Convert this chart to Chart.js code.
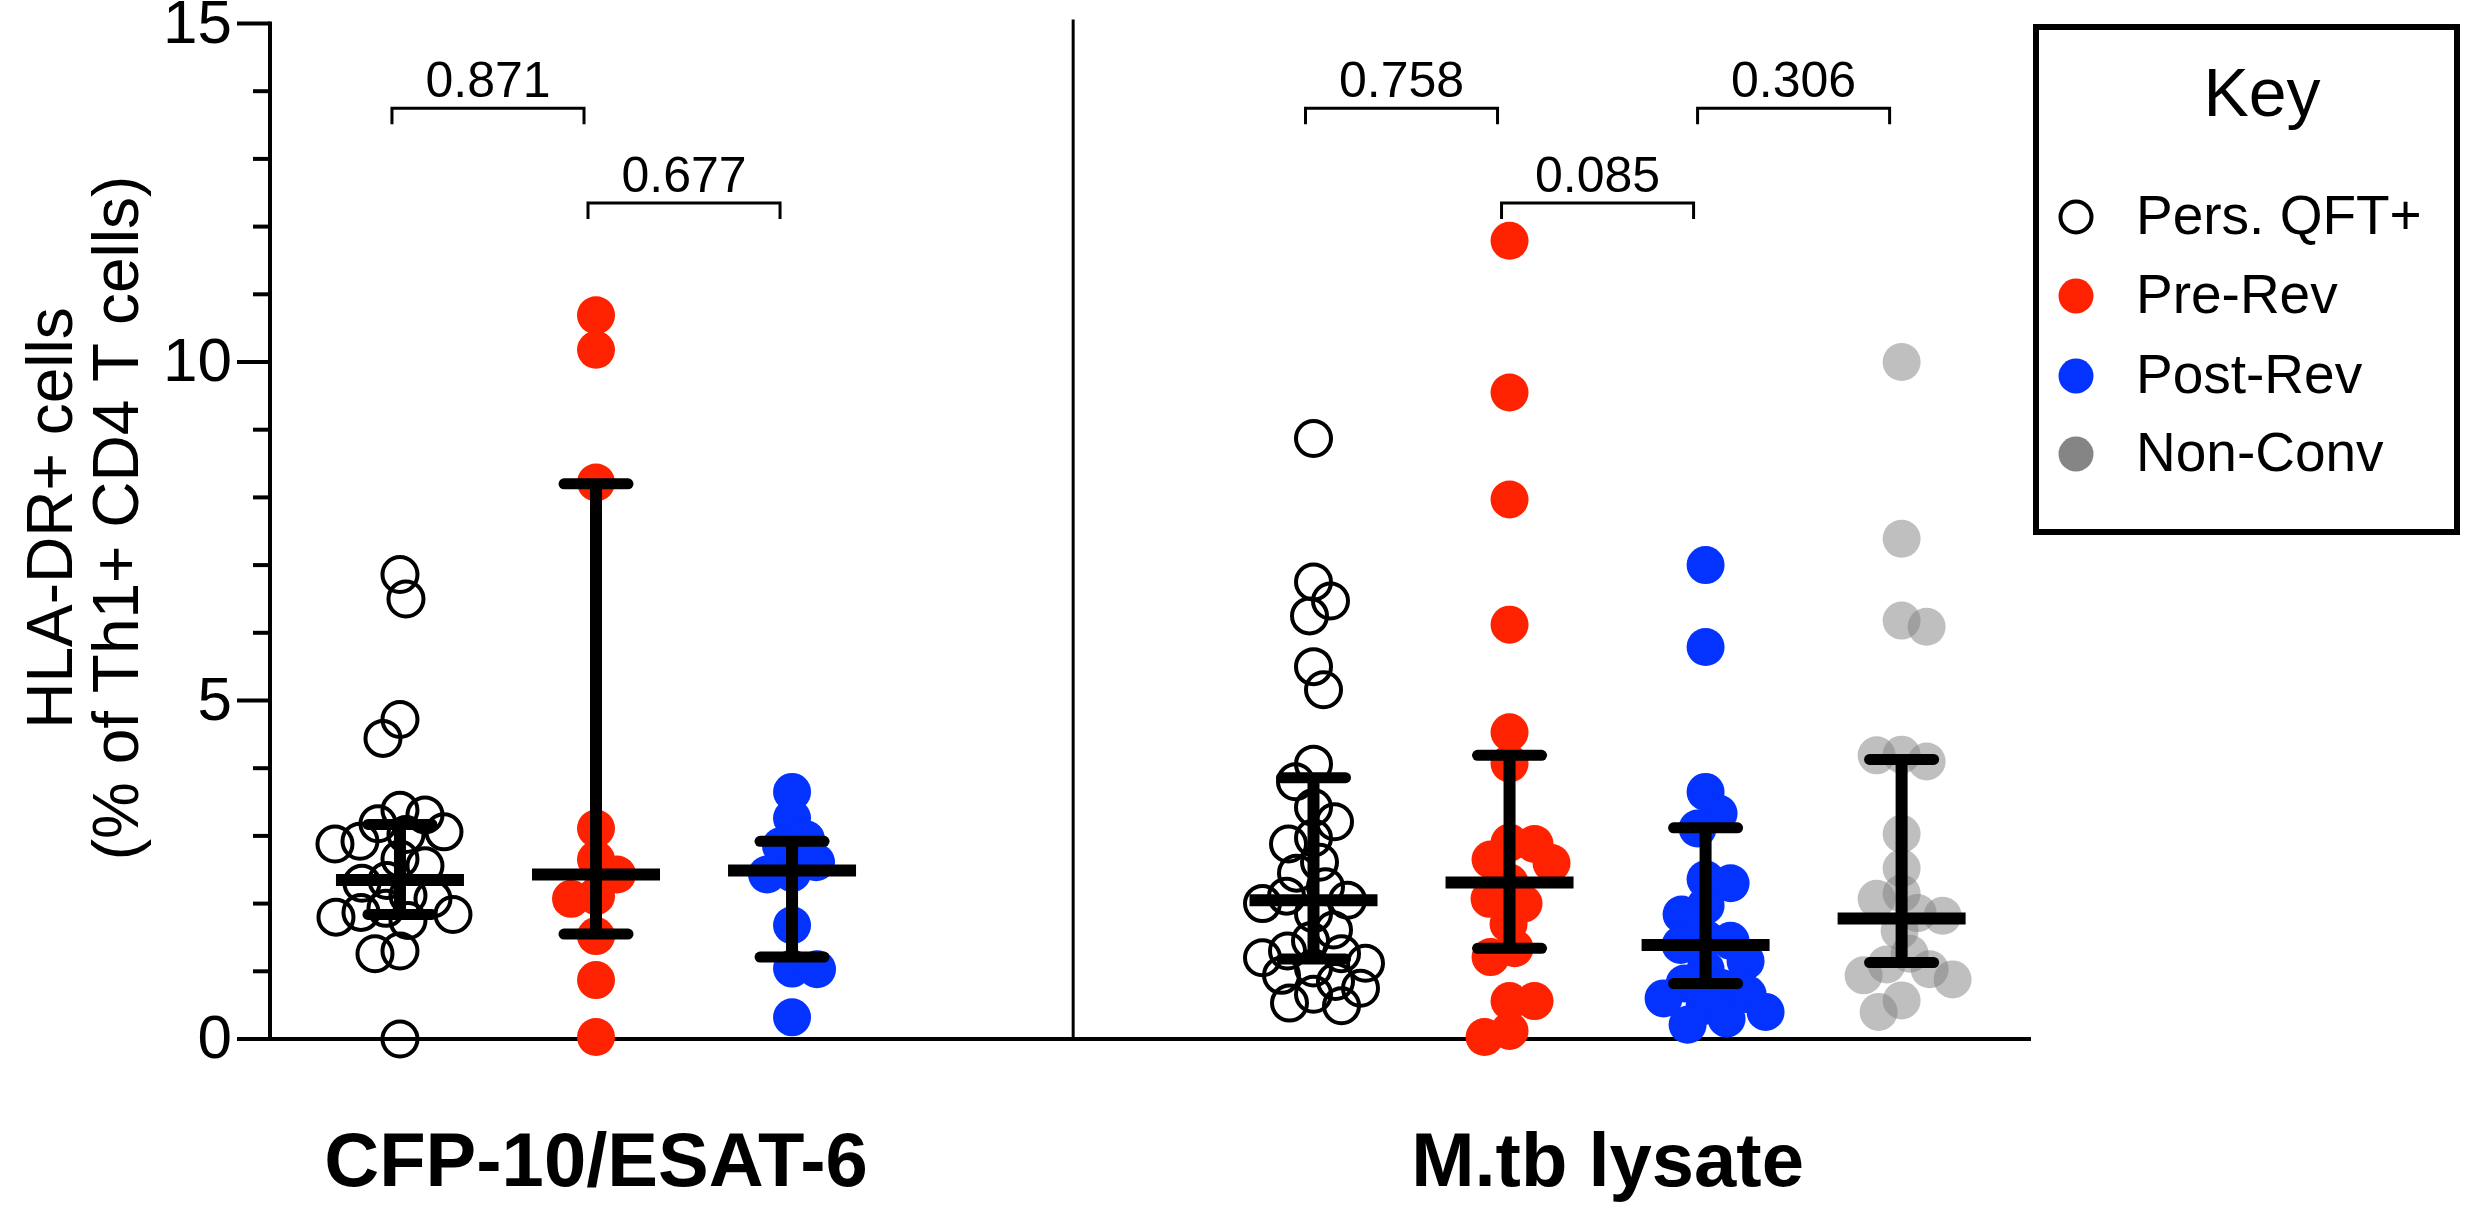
<!DOCTYPE html>
<html>
<head>
<meta charset="utf-8">
<script src="https://cdn.jsdelivr.net/npm/chart.js@4/dist/chart.umd.min.js"></script>
<style>
  html, body { margin: 0; padding: 0; background: #ffffff; }
  #wrap { width: 2480px; height: 1207px; }
  canvas { display: block; }
</style>
</head>
<body>
<div id="wrap"><canvas id="c" width="2480" height="1207"></canvas></div>
<script>
// ---------------- DATA ----------------
const groupLabels = ['CFP-10/ESAT-6', 'M.tb lysate'];
const seriesNames = ['Pers. QFT+', 'Pre-Rev', 'Post-Rev', 'Non-Conv'];

// CFP-10/ESAT-6
const cfpPersQFT = [6.86, 6.50, 4.72, 4.44, 3.38, 3.31, 3.18, 3.06, 3.02, 2.92, 2.88, 2.66, 2.56, 2.34, 2.30, 2.12, 2.07, 1.93, 1.87, 1.84, 1.80, 1.75, 1.30, 1.26, 0.00];
const cfpPreRev  = [10.69, 10.18, 8.22, 3.11, 2.65, 2.43, 2.11, 2.07, 1.52, 0.87, 0.03];
const cfpPostRev = [3.65, 3.26, 2.95, 2.85, 2.61, 2.45, 2.43, 1.68, 1.04, 1.03, 0.32];

// M.tb lysate
const lysPersQFT = [8.87, 6.75, 6.47, 6.25, 5.50, 5.16, 4.06, 3.80, 3.42, 3.21, 2.97, 2.88, 2.61, 2.45, 2.25, 2.11, 2.05, 2.00, 1.85, 1.61, 1.45, 1.30, 1.26, 1.20, 1.12, 1.05, 0.94, 0.85, 0.75, 0.66, 0.53, 0.49];
const lysPreRev  = [11.79, 9.55, 7.97, 6.12, 4.53, 4.07, 2.90, 2.88, 2.65, 2.60, 2.31, 2.07, 2.00, 1.70, 1.34, 1.21, 0.56, 0.56, 0.12, 0.03];
const lysPostRev = [7.00, 5.79, 3.65, 3.33, 3.11, 2.36, 2.30, 1.97, 1.84, 1.48, 1.45, 1.39, 1.15, 1.03, 0.82, 0.75, 0.66, 0.60, 0.49, 0.40, 0.30, 0.21];
const lysNonConv = [10.00, 7.39, 6.18, 6.09, 4.20, 4.19, 4.10, 3.03, 2.52, 2.15, 2.07, 1.86, 1.82, 1.60, 1.26, 1.10, 1.03, 0.94, 0.88, 0.57, 0.40];

// median and interquartile range per column
const medians = [2.35, 2.43, 2.49, 2.05, 2.31, 1.39, 1.78];
const q1      = [1.84, 1.55, 1.21, 1.18, 1.34, 0.82, 1.13];
const q3      = [3.17, 8.20, 2.92, 3.86, 4.19, 3.12, 4.13];

// comparisons: [fromColumn, toColumn, p-value label, level]
const pLabels = ['0.871', '0.677', '0.758', '0.085', '0.306'];
const pFrom   = [0, 1, 3, 4, 5];
const pTo     = [1, 2, 4, 5, 6];
const pLevel  = [13.75, 12.35, 13.75, 12.35, 13.75];

const yTicksMajor = [0, 5, 10, 15];

// ---------------- LAYOUT / STYLE ----------------
const W = 2480, H = 1207;
const AREA = { left: 270, right: 2031, top: 23.5, bottom: 1039 };
const X_MIN = 0.337, X_MAX = 9.32, Y_MIN = 0, Y_MAX = 15;
const colPos = [1, 2, 3, 5.66, 6.66, 7.66, 8.66];
const dividerX = 4.434;
const pxPerY = (AREA.bottom - AREA.top) / (Y_MAX - Y_MIN);
const RED = '#ff2200', BLUE = '#0433ff', GRAY = 'rgba(128,128,128,0.5)';
const FONT = "'Liberation Sans', Arial, Helvetica, sans-serif";

const columns = [
  { vals: cfpPersQFT, s: 0 }, { vals: cfpPreRev, s: 1 }, { vals: cfpPostRev, s: 2 },
  { vals: lysPersQFT, s: 0 }, { vals: lysPreRev, s: 1 }, { vals: lysPostRev, s: 2 }, { vals: lysNonConv, s: 3 }
];
const pxPerX = (AREA.right - AREA.left) / (X_MAX - X_MIN);

// beeswarm spread computed from the values (collision avoidance)
function swarm(values, minDist) {
  const order = values.map((v, i) => i).sort((a, b) => values[b] - values[a]);
  const placed = [], offs = new Array(values.length);
  let flip = 1;
  for (const i of order) {
    const y = values[i] * pxPerY;
    let best = 0;
    outer: for (let k = 0; k < 400; k++) {
      const cands = k === 0 ? [0] : [flip * k, -flip * k];
      for (const c of cands) {
        if (placed.every(p => Math.hypot(p.x - c, p.y - y) >= minDist)) { best = c; break outer; }
      }
    }
    if (best !== 0) flip = -Math.sign(best);
    placed.push({ x: best, y }); offs[i] = best;
  }
  return offs;
}

function styleFor(s) {
  if (s === 0) return { pointRadius: 17.5, pointBorderWidth: 4, pointBorderColor: '#000', pointBackgroundColor: 'rgba(0,0,0,0)' };
  if (s === 1) return { pointRadius: 19, pointBorderWidth: 0, pointBorderColor: RED, pointBackgroundColor: RED };
  if (s === 2) return { pointRadius: 19, pointBorderWidth: 0, pointBorderColor: BLUE, pointBackgroundColor: BLUE };
  return { pointRadius: 19, pointBorderWidth: 0, pointBorderColor: 'rgba(0,0,0,0)', pointBackgroundColor: GRAY };
}

const datasets = columns.map((col, ci) => {
  const offs = swarm(col.vals, 25);
  return Object.assign({
    label: seriesNames[col.s],
    data: col.vals.map((v, i) => ({ x: colPos[ci] + offs[i] / pxPerX, y: v })),
    clip: false,
    pointHoverRadius: 19
  }, styleFor(col.s));
});

// ---------------- PLUGIN: axes, error bars, labels, legend ----------------
const decor = {
  id: 'decor',
  beforeDatasetsDraw(chart) {
    const ctx = chart.ctx, xs = chart.scales.x, ys = chart.scales.y;
    ctx.save();
    ctx.strokeStyle = '#000';
    ctx.lineCap = 'butt';
    ctx.lineWidth = 4;
    ctx.beginPath();
    ctx.moveTo(AREA.left, ys.getPixelForValue(Y_MAX) - 2);
    ctx.lineTo(AREA.left, ys.getPixelForValue(0) + 2);
    ctx.stroke();
    ctx.beginPath();
    ctx.moveTo(AREA.left - 2, ys.getPixelForValue(0));
    ctx.lineTo(xs.getPixelForValue(X_MAX), ys.getPixelForValue(0));
    ctx.stroke();
    ctx.lineWidth = 4;
    for (let v = Y_MIN; v <= Y_MAX; v += 1) {
      const y = ys.getPixelForValue(v);
      const major = yTicksMajor.includes(v);
      ctx.beginPath();
      ctx.moveTo(AREA.left - (major ? 33 : 17), y);
      ctx.lineTo(AREA.left, y);
      ctx.stroke();
    }
    ctx.lineWidth = 3;
    const dx = xs.getPixelForValue(dividerX);
    ctx.beginPath();
    ctx.moveTo(dx, ys.getPixelForValue(Y_MAX) - 4);
    ctx.lineTo(dx, ys.getPixelForValue(0));
    ctx.stroke();
    ctx.fillStyle = '#000';
    ctx.font = `62px ${FONT}`;
    ctx.textAlign = 'right';
    ctx.textBaseline = 'middle';
    yTicksMajor.forEach(v => ctx.fillText(String(v), AREA.left - 38, ys.getPixelForValue(v) + 2));
    ctx.restore();
  },
  afterDatasetsDraw(chart) {
    const ctx = chart.ctx, xs = chart.scales.x, ys = chart.scales.y;
    ctx.save();
    ctx.strokeStyle = '#000';
    colPos.forEach((p, i) => {
      const x = xs.getPixelForValue(p);
      const ym = ys.getPixelForValue(medians[i]);
      const y1 = ys.getPixelForValue(q1[i]);
      const y3 = ys.getPixelForValue(q3[i]);
      ctx.lineWidth = 12;
      ctx.lineCap = 'butt';
      ctx.beginPath(); ctx.moveTo(x, y3); ctx.lineTo(x, y1); ctx.stroke();
      ctx.lineWidth = 11;
      ctx.lineCap = 'round';
      ctx.beginPath(); ctx.moveTo(x - 32, y3); ctx.lineTo(x + 32, y3); ctx.stroke();
      ctx.beginPath(); ctx.moveTo(x - 32, y1); ctx.lineTo(x + 32, y1); ctx.stroke();
      ctx.lineWidth = 12;
      ctx.lineCap = 'butt';
      ctx.beginPath(); ctx.moveTo(x - 64, ym); ctx.lineTo(x + 64, ym); ctx.stroke();
    });
    ctx.restore();
  },
  afterDraw(chart) {
    const ctx = chart.ctx, xs = chart.scales.x, ys = chart.scales.y;
    ctx.save();
    ctx.fillStyle = '#000';
    ctx.strokeStyle = '#000';
    ctx.lineWidth = 3;
    ctx.lineCap = 'butt';
    ctx.font = `50px ${FONT}`;
    ctx.textAlign = 'center';
    ctx.textBaseline = 'alphabetic';
    pLabels.forEach((lab, i) => {
      const xa = xs.getPixelForValue(colPos[pFrom[i]]) - 8;
      const xb = xs.getPixelForValue(colPos[pTo[i]]) - 12;
      const y = ys.getPixelForValue(pLevel[i]);
      ctx.beginPath();
      ctx.moveTo(xa, y + 16); ctx.lineTo(xa, y); ctx.lineTo(xb, y); ctx.lineTo(xb, y + 16);
      ctx.stroke();
      ctx.fillText(lab, (xa + xb) / 2, y - 11);
    });
    ctx.font = `bold 76px ${FONT}`;
    ctx.textBaseline = 'middle';
    ctx.fillText(groupLabels[0], xs.getPixelForValue(colPos[1]), 1165);
    ctx.fillText(groupLabels[1], (xs.getPixelForValue(colPos[4]) + xs.getPixelForValue(colPos[5])) / 2, 1165);
    ctx.save();
    ctx.translate(0, 518);
    ctx.rotate(-Math.PI / 2);
    ctx.font = `64px ${FONT}`;
    ctx.textAlign = 'center';
    ctx.textBaseline = 'middle';
    ctx.fillText('HLA-DR+ cells', 0, 54);
    ctx.fillText('(% of Th1+ CD4 T cells)', 0, 120);
    ctx.restore();
    ctx.lineWidth = 6;
    ctx.strokeRect(2036, 27, 421, 505);
    ctx.font = `68px ${FONT}`;
    ctx.textAlign = 'center';
    ctx.textBaseline = 'middle';
    ctx.fillText('Key', 2262, 97);
    const legY = [217, 296, 376, 454];
    const legFill = ['rgba(0,0,0,0)', RED, BLUE, '#858585'];
    ctx.font = `55px ${FONT}`;
    ctx.textAlign = 'left';
    seriesNames.forEach((name, i) => {
      ctx.beginPath();
      if (i === 0) {
        ctx.lineWidth = 4;
        ctx.arc(2076, legY[i], 15.5, 0, Math.PI * 2);
        ctx.stroke();
      } else {
        ctx.fillStyle = legFill[i];
        ctx.arc(2076, legY[i], 17.5, 0, Math.PI * 2);
        ctx.fill();
      }
      ctx.fillStyle = '#000';
      ctx.fillText(name, 2136, legY[i] + 2);
    });
    ctx.restore();
  }
};

new Chart(document.getElementById('c'), {
  type: 'scatter',
  data: { datasets },
  options: {
    responsive: false,
    animation: false,
    devicePixelRatio: 1,
    layout: { padding: { left: AREA.left, right: W - AREA.right, top: AREA.top, bottom: H - AREA.bottom } },
    scales: {
      x: { type: 'linear', min: X_MIN, max: X_MAX, display: false },
      y: { type: 'linear', min: Y_MIN, max: Y_MAX, display: false }
    },
    plugins: { legend: { display: false }, tooltip: { enabled: false } }
  },
  plugins: [decor]
});
</script>
</body>
</html>
